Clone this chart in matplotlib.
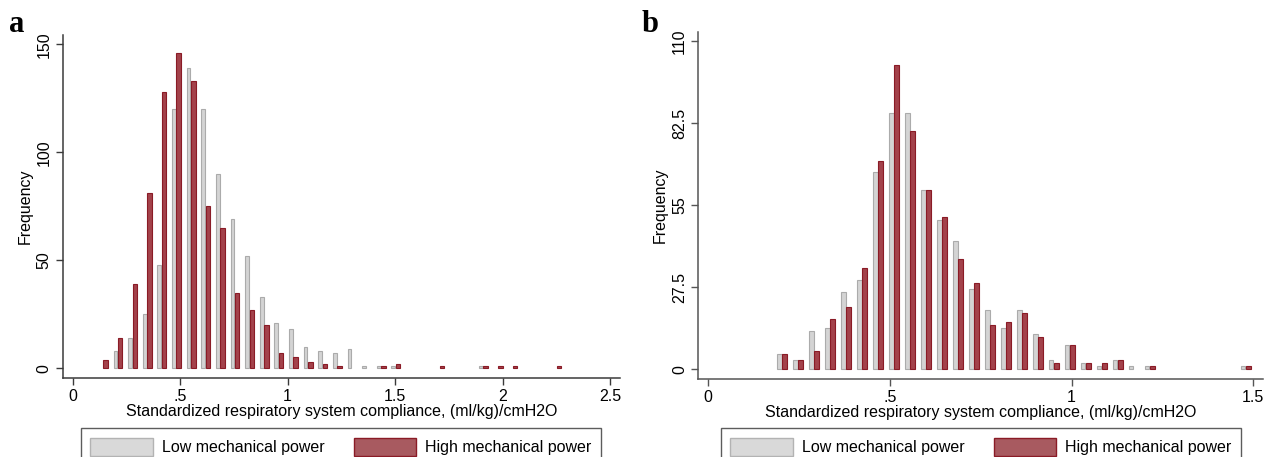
import numpy as np
import matplotlib
matplotlib.use('Agg')
import matplotlib.pyplot as plt
from matplotlib.patches import Patch

plt.rcParams['font.family'] = ['Liberation Sans', 'DejaVu Sans']

# panel a: bins (width 0.068), low power starts at 0.2, high power one bin earlier
a_start = 0.2
a_width = 0.068
a_low = [8, 14, 25, 48, 120, 139, 120, 90, 69, 52, 33, 21, 18, 10, 8, 7, 9,
         1, 1, 1, 0, 0, 0, 0, 0, 1]
a_high = [4, 14, 39, 81, 128, 146, 133, 75, 65, 35, 27, 20, 7, 5, 3, 2, 1,
          0, 0, 1, 2, 0, 0, 1, 0, 0, 1, 1, 1, 0, 0, 1]   # first value is bin -1

# panel b: bins (width 0.044) starting at 0.196
b_start = 0.196
b_width = 0.044
b_low = [5, 3, 13, 14, 26, 30, 66, 86, 86, 60, 50, 43, 27, 20, 14, 20, 12,
         3, 8, 2, 1, 3, 1, 1, 0, 0, 0, 0, 0, 1]
b_high = [5, 3, 6, 17, 21, 34, 70, 102, 80, 60, 51, 37, 29, 15, 16, 19, 11,
          2, 8, 2, 2, 3, 0, 1, 0, 0, 0, 0, 0, 1]

a_xticks = [0, 0.5, 1, 1.5, 2, 2.5]
a_xlabels = ['0', '.5', '1', '1.5', '2', '2.5']
a_yticks = [0, 50, 100, 150]
b_xticks = [0, 0.5, 1, 1.5]
b_xlabels = ['0', '.5', '1', '1.5']
b_yticks = [0, 27.5, 55, 82.5, 110]
b_ylabels = ['0', '27.5', '55', '82.5', '110']

xlabel = 'Standardized respiratory system compliance, (ml/kg)/cmH2O'
labels = ['Low mechanical power', 'High mechanical power']

gray_fc, gray_ec = '#d4d4d4', '#ababab'
red_fc, red_ec = '#a3424b', '#8a1b26'
FS = 11.5

W, H = 1264, 457
fig = plt.figure(figsize=(W / 100, H / 100), dpi=100)


def px_axes(x0, x1, ytop, ybot):
    return fig.add_axes([x0 / W, 1 - ybot / H, (x1 - x0) / W, (ybot - ytop) / H])


def bars(ax, x, counts, width, fc, ec):
    x = np.asarray(x)
    counts = np.asarray(counts)
    keep = counts > 0   # empty bins are not drawn
    ax.bar(x[keep], counts[keep], width=width, color=fc, edgecolor=ec,
           linewidth=0.8)


def style(ax, xlim, ylim, xt, xl, yt, yl, spine_col):
    ax.set_xlim(*xlim)
    ax.set_ylim(*ylim)
    for s in ['top', 'right']:
        ax.spines[s].set_visible(False)
    for s in ['left', 'bottom']:
        ax.spines[s].set_color(spine_col)
        ax.spines[s].set_linewidth(1.1)
    ax.set_xticks(xt)
    ax.set_xticklabels(xl, fontsize=FS)
    ax.set_yticks(yt)
    ax.set_yticklabels(yl, fontsize=FS, rotation=90, va='center')
    ax.tick_params(length=5, width=1.0, color=spine_col, pad=3)
    ax.set_xlabel(xlabel, fontsize=FS, labelpad=0)
    ax.set_ylabel('Frequency', fontsize=FS, labelpad=3)


# ---- panel a
ax1 = px_axes(62.7, 620, 35, 378.3)
i_low = np.arange(len(a_low))
i_high = np.arange(len(a_high)) - 1
bars(ax1, a_start + i_low * a_width, a_low, 0.0175, gray_fc, gray_ec)
bars(ax1, a_start + i_high * a_width + 0.022, a_high, 0.021, red_fc, red_ec)
style(ax1, (-0.0456, 2.5465), (-4.63, 154.3), a_xticks, a_xlabels,
      a_yticks, [str(v) for v in a_yticks], '#3a3a3a')

# ---- panel b
ax2 = px_axes(698.3, 1263, 31.7, 379)
j = np.arange(len(b_low))
bars(ax2, b_start + j * b_width, b_low, 0.0125, gray_fc, gray_ec)
bars(ax2, b_start + j * b_width + 0.0142, b_high, 0.0135, red_fc, red_ec)
style(ax2, (-0.0275, 1.527), (-3.25, 113.2), b_xticks, b_xlabels,
      b_yticks, b_ylabels, '#555555')

handles = [Patch(facecolor='#d9d9d9', edgecolor='#b3b3b3', linewidth=1.0),
           Patch(facecolor='#a85a60', edgecolor='#8a1b26', linewidth=1.0)]
for cx in [341 / W, 981 / W]:
    leg = fig.legend(handles, labels, ncol=2, loc='upper center',
                     bbox_to_anchor=(cx, 1 - 428 / H), fontsize=FS,
                     frameon=True, fancybox=False, edgecolor='#333333',
                     handlelength=3.9, handleheight=1.35, handletextpad=0.6,
                     columnspacing=1.8, borderpad=0.6, borderaxespad=0)
    leg.get_frame().set_linewidth(1.0)

fig.text(9 / W, 1 - 32 / H, 'a', fontsize=22, fontweight='bold',
         family='Liberation Serif', va='baseline')
fig.text(642 / W, 1 - 32 / H, 'b', fontsize=22, fontweight='bold',
         family='Liberation Serif', va='baseline')

fig.savefig('out.png', dpi=100)
